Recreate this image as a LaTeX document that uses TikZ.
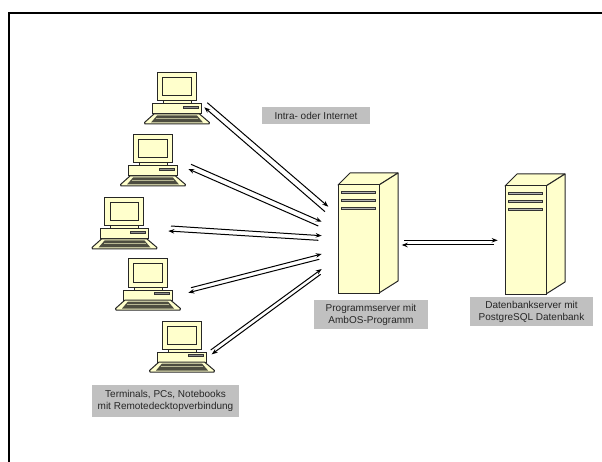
\documentclass[tikz,border=0pt]{standalone}
\usepackage{fontspec}
\setmainfont{Liberation Sans}
\usetikzlibrary{arrows.meta}

\definecolor{creme}{HTML}{FFFFCC}
\definecolor{labelgray}{HTML}{C0C0C0}
\definecolor{keydark}{HTML}{4D4D40}

\tikzset{
  frameline/.style={line width=2pt},
  pcline/.style={draw=black!85, line width=1pt, fill=creme},
  link/.style={line width=1pt, -{Stealth[length=6pt,width=4.5pt]}},
  lblbox/.style={fill=labelgray, inner sep=0pt, align=center, text=black!85,
    font=\fontsize{10}{12}\selectfont},
  % origin of both pics: upper left corner of monitor / of the front panel
  pcunit/.pic={
    \draw[pcline] (6,27) rectangle (34,32); % neck
    \draw[pcline] (0,0) rectangle (39,28);
    \draw[pcline] (5.5,5) rectangle (34,23);
    \draw[pcline] (-4.5,31) rectangle (44,41);
    \draw[draw=black!80, fill=black!45, line width=.6pt] (26,33.5) rectangle (41,35.5);
    \draw[pcline, line join=round] (-3,41) -- (42.5,41) -- (52.5,49.5) -- (52,51)
      -- (-12,51) -- (-12.5,49.5) -- cycle;
    \fill[keydark] (0,42.5) -- (40,42.5) -- (46,49.5) -- (-6,49.5) -- cycle;
    \fill[creme!60!keydark] (-1,45) rectangle (41,46);
  },
  srvunit/.pic={
    \draw[pcline, line join=round] (0,0) -- (12,-12) -- (60,-12) -- (41,0) -- cycle;
    \draw[pcline, line join=round] (41,0) -- (60,-12) -- (60,96) -- (41,108) -- cycle;
    \draw[pcline] (0,0) rectangle (41,108);
    \foreach \slot in {6,14,22}
      \draw[draw=black!80, fill=black!30, line width=.7pt] (3,\slot) rectangle (37,\slot+2.2);
  },
}

\begin{document}
\begin{tikzpicture}[x=1pt, y=-1pt]

  \useasboundingbox (0,0) rectangle (602,462);

  \coordinate (frameTR) at (602,13);
  \coordinate (frameTL) at (8.5,13);
  \coordinate (frameBL) at (8.5,462);
  \draw[frameline] (frameTR) -- (frameTL) -- (frameBL);

  \pic at (157,73) {pcunit};
  \pic at (133,135) {pcunit};
  \pic at (104.5,198) {pcunit};
  \pic at (128,259) {pcunit};
  \pic at (162,321) {pcunit};

  \pic at (338,185) {srvunit};
  \pic at (505,186) {srvunit};

  \node[lblbox, minimum width=108pt, minimum height=17pt] (lblNet) at (316,115.5) {Intra- oder Internet};
  \node[lblbox, minimum width=114pt, minimum height=29pt] (lblProg) at (371,314.5) {Programmserver mit\\AmbOS-Programm};
  \node[lblbox, minimum width=123pt, minimum height=29pt] (lblDb) at (531.5,311.5) {Datenbankserver mit\\PostgreSQL Datenbank};
  \node[lblbox, minimum width=147pt, minimum height=32pt] (lblPc) at (165.5,401) {Terminals, PCs, Notebooks\\mit Remotedecktopverbindung};

  % free ends of the links: a = outgoing start, b = outgoing tip, c = back start, d = back tip
  \foreach \name/\ax/\ay/\bx/\by/\cx/\cy/\dx/\dy in {
    one/207.3/102.7/328.3/206.7/325/211.7/204.3/107.3,
    two/191/164.3/321.7/221.7/318.3/226/188.3/169,
    three/171/226/321.7/235.7/318.3/240.3/168.3/231,
    four/191/287.7/321.7/254/319.3/259.3/188.3/292.7,
    five/210.7/350/321.7/269/320.7/274.3/211.7/354.3,
    six/404.3/240.3/497.7/240.3/494/245/401.7/245}
  {
    \coordinate (\name A) at (\ax,\ay);
    \coordinate (\name B) at (\bx,\by);
    \coordinate (\name C) at (\cx,\cy);
    \coordinate (\name D) at (\dx,\dy);
    \draw[link] (\name A) -- (\name B);
    \draw[link] (\name C) -- (\name D);
  }

\end{tikzpicture}
\end{document}
